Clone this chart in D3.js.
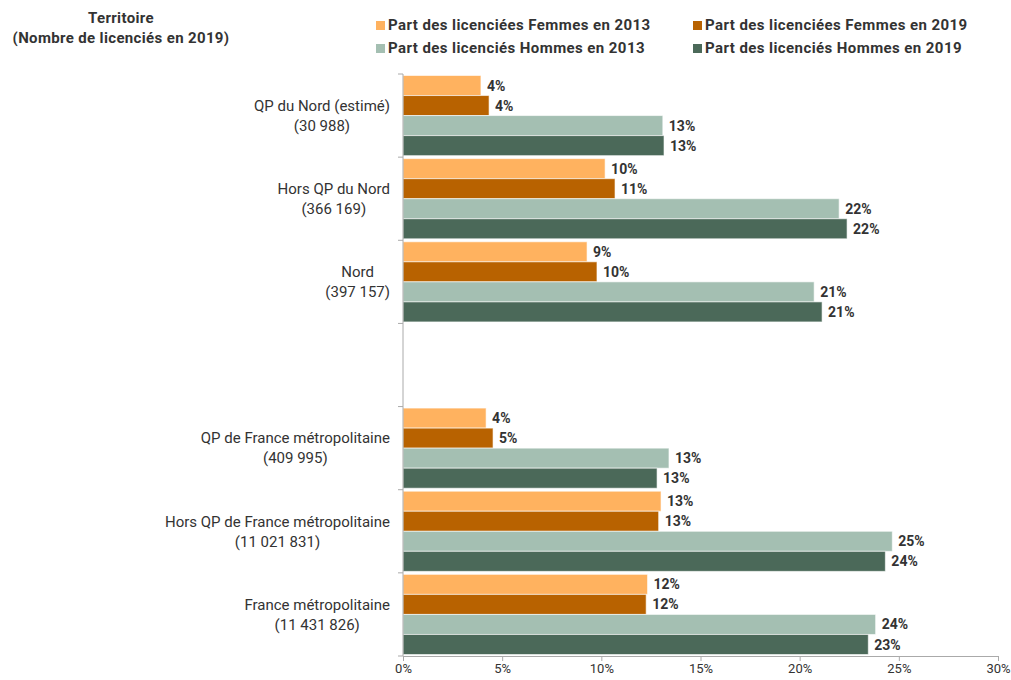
<!DOCTYPE html>
<html><head><meta charset="utf-8">
<script src="https://cdn.jsdelivr.net/npm/d3@7"></script>
<style>body{margin:0;background:#fff;font-family:Roboto,"Noto Sans",sans-serif;}</style>
</head><body><svg id="c" width="1011" height="680"></svg>
<script>
const categories = [
  ["QP du Nord (estimé)", "(30 988)"],
  ["Hors QP du Nord", "(366 169)"],
  ["Nord", "(397 157)"],
  null,
  ["QP de France métropolitaine", "(409 995)"],
  ["Hors QP de France métropolitaine", "(11 021 831)"],
  ["France métropolitaine", "(11 431 826)"]
];
const seriesNames = [
  "Part des licenciées Femmes en 2013",
  "Part des licenciées Femmes en 2019",
  "Part des licenciés Hommes en 2013",
  "Part des licenciés Hommes en 2019"
];
const femmes2013 = [3.93, 10.19, 9.28, null, 4.19, 13.01, 12.33];
const femmes2019 = [4.34, 10.69, 9.78, null, 4.54, 12.89, 12.26];
const hommes2013 = [13.10, 21.99, 20.73, null, 13.41, 24.67, 23.83];
const hommes2019 = [13.16, 22.39, 21.13, null, 12.81, 24.32, 23.46];
const xTicks = [0, 5, 10, 15, 20, 25, 30];
const colors = ["#ffb25f", "#b86200", "#a4bfb2", "#4b6959"];

(function () {
const series = [femmes2013, femmes2019, hommes2013, hommes2019];
const svg = d3.select("#c");
const L = 403, R = 998, T = 74, B = 656;

const x = d3.scaleLinear().domain([0, 30]).range([L, R]);
const y = d3.scaleBand().domain(d3.range(categories.length)).range([T, B]).paddingInner(0.036).paddingOuter(0.018);
const ys = d3.scaleBand().domain(d3.range(4)).range([0, y.bandwidth()]);

series.forEach((s, si) => {
  const g = svg.append("g");
  s.forEach((v, ci) => {
    if (v == null) return;
    const y0 = y(ci) + ys(si);
    g.append("rect").attr("x", x(0)).attr("y", y0).attr("width", x(v) - x(0)).attr("height", ys.bandwidth())
      .attr("fill", colors[si]).attr("stroke", "#fff").attr("stroke-opacity", 0.6).attr("stroke-width", 1);
    g.append("text").attr("x", x(v) + 6).attr("y", y0 + ys.bandwidth() / 2).attr("dy", "0.36em")
      .attr("font-size", 14).attr("font-weight", "bold").attr("fill", "#333")
      .text(Math.round(v) + "%");
  });
});

const band = (B - T) / categories.length;
svg.append("line").attr("x1", L).attr("x2", L).attr("y1", T).attr("y2", B).attr("stroke", "#aaa");
for (let i = 0; i <= categories.length; i++) {
  svg.append("line").attr("x1", L - 5).attr("x2", L).attr("y1", T + i * band).attr("y2", T + i * band).attr("stroke", "#aaa");
}
categories.forEach((c, i) => {
  if (!c) return;
  const cy = T + (i + 0.5) * band;
  const t = svg.append("text").attr("font-size", 15).attr("fill", "#333").attr("text-anchor", "middle");
  const spans = c.map((line, li) => t.append("tspan").attr("x", 0).attr("y", cy + (li - 0.5) * 20).attr("dy", "0.35em").text(line));
  let w = 0; spans.forEach(s => { w = Math.max(w, s.node().getComputedTextLength()); });
  spans.forEach(s => s.attr("x", 390 - w / 2));
});

const xa = svg.append("g").attr("transform", `translate(0,${B})`)
  .call(d3.axisBottom(x).tickValues(xTicks).tickFormat(d => d + "%").tickSizeOuter(0).tickSize(5));
xa.select(".domain").attr("stroke", "#aaa");
xa.selectAll(".tick line").attr("stroke", "#aaa");
xa.selectAll("text").attr("font-size", 13).attr("fill", "#333").attr("font-family", "Roboto");

const tt = svg.append("text").attr("font-size", 15).attr("font-weight", "bold").attr("fill", "#333")
  .attr("text-anchor", "middle").attr("letter-spacing", "0.35px");
tt.append("tspan").attr("x", 121).attr("y", 23).text("Territoire");
tt.append("tspan").attr("x", 121).attr("y", 43).text("(Nombre de licenciés en 2019)");

const legPos = [[376, 25], [693, 25], [376, 48], [693, 48]];
seriesNames.forEach((n, i) => {
  const [lx, ly] = legPos[i];
  svg.append("rect").attr("x", lx).attr("y", ly - 4).attr("width", 9).attr("height", 9).attr("fill", colors[i]);
  svg.append("text").attr("x", lx + 12).attr("y", ly).attr("dy", "0.35em").attr("font-size", 15)
    .attr("letter-spacing", "0.42px").attr("font-weight", "bold").attr("fill", "#333").text(n);
});
})();
</script></body></html>
